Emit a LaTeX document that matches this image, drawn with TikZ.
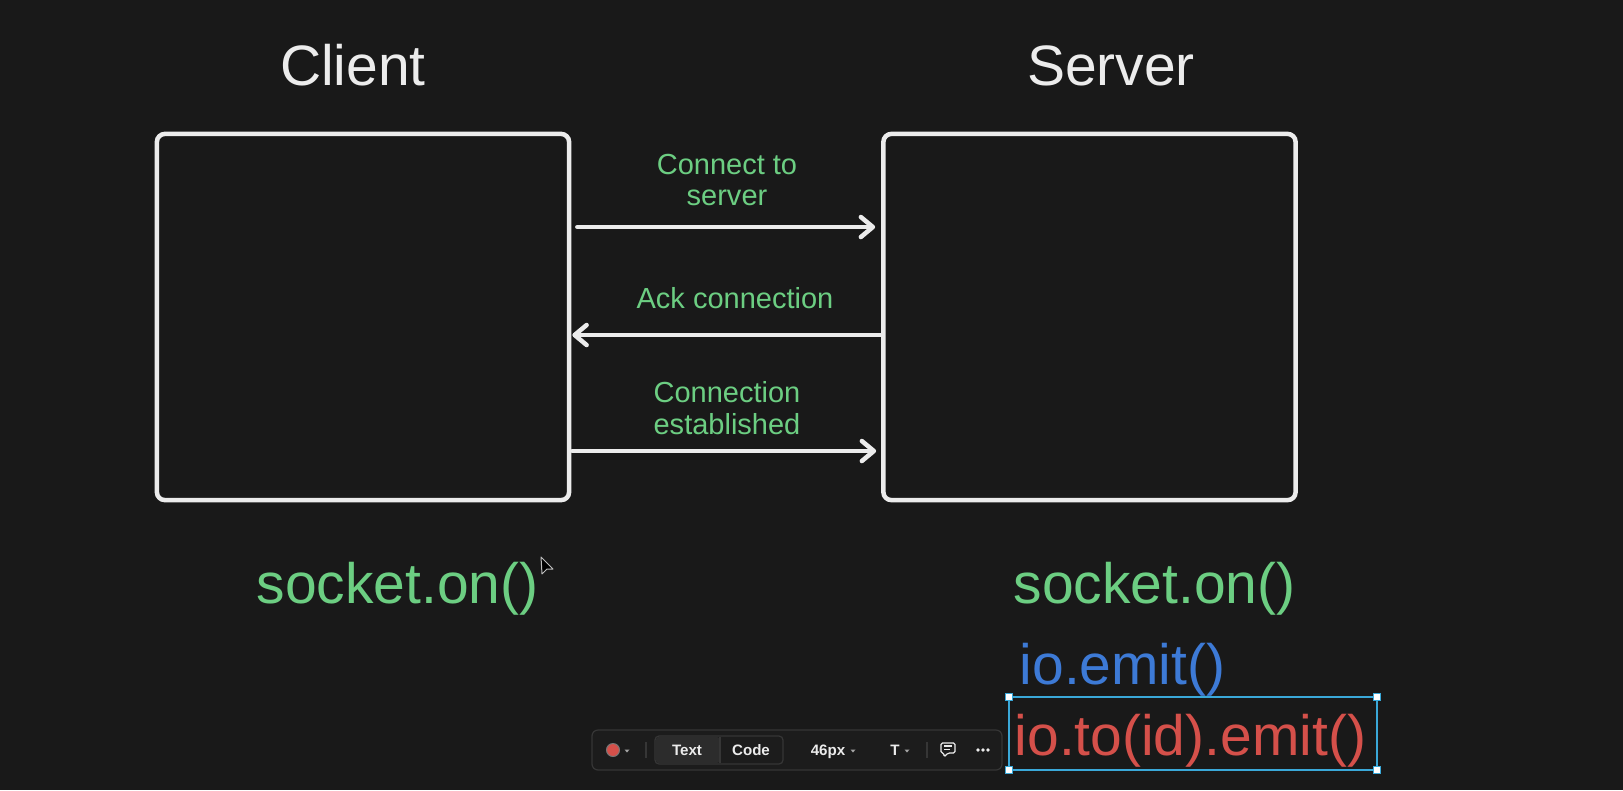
\documentclass[tikz,border=0pt]{standalone}
\usepackage{fontspec}
\setmainfont{Liberation Sans}
\usetikzlibrary{arrows.meta,positioning}

\definecolor{bg}{HTML}{191919}
\definecolor{chalk}{HTML}{ECECEC}
\definecolor{mint}{HTML}{6CCE82}
\definecolor{sky}{HTML}{3D7AD6}
\definecolor{coral}{HTML}{D5504A}
\definecolor{selblue}{HTML}{3AA8D8}
\definecolor{barbg}{HTML}{1C1C1C}
\definecolor{barline}{HTML}{363636}
\definecolor{barseg}{HTML}{2C2C2C}

\tikzset{
  panel/.style={draw=chalk, line width=0.045cm, rounded corners=0.08cm,
    minimum width=4.12cm, minimum height=3.66cm, inner sep=0pt},
  title/.style={text=chalk, font=\fontsize{16.2}{19}\selectfont, inner sep=0pt, anchor=base},
  note/.style={text=mint, font=\fontsize{8.25}{8.9}\selectfont, inner sep=0pt, align=center},
  call/.style={font=\fontsize{16.2}{19}\selectfont, inner sep=0pt, anchor=base west},
  flow/.style={draw=chalk, line width=0.045cm, line cap=round,
    -{Straight Barb[length=0.12cm,width=0.2cm,line cap=round,line join=round]}},
  barfont/.style={text=chalk, font=\fontsize{4.3}{5}\selectfont\bfseries, inner sep=0pt, anchor=base}
}

\begin{document}
\begin{tikzpicture}[x=0.01cm,y=-0.01cm]
\fill[bg] (0,0) rectangle (1623,790);
\useasboundingbox (0,0) rectangle (1623,790);

\node[title] (clienttitle) at (353,85) {Client};
\node[title] (servertitle) at (1111,85) {Server};

\node[panel] (client) at (363,317) {};
\node[panel] (server) at (1089.5,317) {};

\coordinate (r1) at (0,227);
\coordinate (r2) at (0,335);
\coordinate (r3) at (0,451);

\node[note] (connectlbl) at (727,180) {Connect to\\server};
\node[note, anchor=base] (acklbl) at (735,308) {Ack connection};
\node[note] (establbl) at (727,408) {Connection\\established};

\draw[flow, shorten <=0.06cm, shorten >=0.06cm] (client.east |- r1) -- (server.west |- r1);
\draw[flow, shorten >=0.01cm] (server.west |- r2) -- (client.east |- r2);
\draw[flow, shorten <=0.01cm, shorten >=0.05cm] (client.east |- r3) -- (server.west |- r3);

\node[call, text=mint] (clienton) at (256,603) {socket.on()};
\node[call, text=mint] (serveron) at (1013,603) {socket.on()};
\node[call, text=sky] (ioemit) at (1019,684) {io.emit()};
\node[call, text=coral] (iotoemit) at (1014,755) {io.to(id).emit()};

\draw[fill=black, draw=chalk!80!black, line width=0.01cm, line join=round]
  (541,557) -- (553,569) -- (547,569) -- (542,574) -- cycle;

\draw[selblue, line width=0.012cm] (1009,697) rectangle (1377,770);
\foreach \hx/\hy in {1009/697,1377/697,1009/770,1377/770}{
  \draw[selblue, fill=white, line width=0.01cm] (\hx-3.5,\hy-3.5) rectangle (\hx+3.5,\hy+3.5);
}

\draw[barline, fill=barbg, line width=0.012cm, rounded corners=0.06cm] (592,730) rectangle (1002,770);
\draw[barline, line width=0.012cm, rounded corners=0.04cm] (655,736) rectangle (783,764);
\fill[barseg, rounded corners=0.04cm] (655.6,736.6) -- (720,736.6) -- (720,763.4) -- (655.6,763.4) -- cycle;
\draw[barline, line width=0.012cm] (720,736.6) -- (720,763.4);
\draw[coral, line width=0.01cm, fill=coral] (613,750) circle (0.06cm);
\draw[chalk!50!black, line width=0.01cm] (613,750) circle (0.065cm);
\foreach \cx in {627,853,907}{
  \fill[chalk!70!black] (\cx-2.5,749.5) -- (\cx+2.5,749.5) -- (\cx,752.5) -- cycle;
}
\foreach \sx in {646,927}{
  \draw[barline, line width=0.012cm] (\sx,742) -- (\sx,758);
}
\node[barfont] (textbtn) at (687,755) {Text};
\node[barfont] (codebtn) at (751,755) {Code};
\node[barfont] (sizebtn) at (828,755) {46px};
\node[barfont] (fontbtn) at (895,755) {T};
\draw[chalk, line width=0.012cm, rounded corners=0.015cm]
  (944,753) -- (941,753) -- (941,743) -- (955,743) -- (955,753) -- (948,753) -- (944,757) -- cycle;
\draw[chalk, line width=0.012cm] (944,746) -- (952,746) (944,749.5) -- (950,749.5);
\foreach \dx in {978,983,988}{
  \fill[chalk] (\dx,750) circle (0.018cm);
}
\end{tikzpicture}
\end{document}
